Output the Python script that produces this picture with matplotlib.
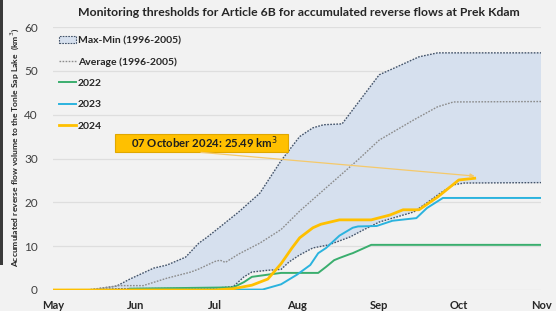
import matplotlib
matplotlib.use("Agg")
import matplotlib.pyplot as plt
from matplotlib.patches import Patch, Rectangle
from matplotlib.lines import Line2D

plt.rcParams['font.family'] = ['Lato', 'DejaVu Sans']

# x values are days since 1 May
month_labels = ["May", "Jun", "Jul", "Aug", "Sep", "Oct", "Nov"]
month_days = [0, 31, 61, 92, 123, 153, 184]

max_days = [13, 16, 24, 29, 38, 43, 50, 55, 58, 63, 70, 78, 86, 93, 98, 102, 109, 115, 123, 130, 138, 145, 184]
max_vals = [0, 0.2, 0.9, 2.5, 5.0, 5.7, 7.5, 10.7, 12, 14.4, 17.8, 22.1, 29.5, 35, 37, 37.7, 37.9, 42.7, 49.1, 51, 53.2, 54.1, 54.1]

min_days = [13, 25, 61, 68, 72, 75, 81, 86, 89, 93, 98, 104, 112, 117, 123, 136, 141, 146, 151, 155, 184]
min_vals = [0, 0.3, 0.4, 0.8, 3.0, 4.1, 4.5, 4.7, 6.4, 8.0, 9.6, 10.3, 12.1, 13.7, 15.5, 17.8, 19.9, 22.1, 24.0, 24.4, 24.5]

avg_days = [13, 25, 34, 43, 52, 55, 61, 63, 65, 70, 78, 86, 93, 102, 115, 123, 136, 145, 151, 184]
avg_vals = [0, 1.0, 1.0, 2.7, 4.1, 4.8, 6.5, 6.8, 6.3, 8.2, 10.7, 13.8, 18.0, 22.8, 29.7, 34.2, 38.8, 41.8, 42.9, 43.0]

y2022_days = [29, 68, 72, 75, 81, 86, 100, 103, 106, 108, 112, 113, 120, 184]
y2022_vals = [0.3, 0.6, 1.8, 3.0, 3.5, 3.9, 3.9, 5.3, 6.8, 7.3, 8.2, 8.4, 10.3, 10.3]

y2023_days = [0, 79, 86, 92, 97, 100, 103, 108, 113, 115, 122, 128, 134, 137, 141, 147, 184]
y2023_vals = [0, 0.1, 1.3, 3.5, 5.7, 8.4, 9.6, 12.4, 14.2, 14.5, 14.6, 15.8, 16.2, 16.4, 18.7, 21.0, 21.0]

y2024_days = [0, 61, 68, 75, 81, 86, 90, 93, 98, 101, 108, 120, 127, 132, 138, 145, 153, 159]
y2024_vals = [0, 0, 0.3, 1.1, 2.5, 6.0, 9.5, 11.9, 14.2, 15.0, 16.0, 16.0, 17.1, 18.3, 18.3, 21.2, 25.1, 25.49]

annot_day = 159
annot_val = 25.49
annot_text = "07 October 2024: 25.49 km$^3$"

title = "Monitoring thresholds for Article 6B for accumulated reverse flows at Prek Kdam"
ylabel = "Accumulated reverse flow volume to the Tonle Sap Lake  (km$^3$)"

bg = "#F2F2F2"
fig = plt.figure(figsize=(5.56, 3.11), dpi=100, facecolor=bg)
ax = fig.add_axes([53/556, 21/311, 488/556, 263/311], facecolor=bg)

# left dark strip
fig.patches.append(Rectangle((0, 46/311), 3/556, 1 - 46/311, transform=fig.transFigure,
                             facecolor="#3A3A3A", edgecolor="none"))

ax.set_xlim(0, 184)
ax.set_ylim(0, 60)
ax.set_yticks([0, 10, 20, 30, 40, 50, 60])
ax.set_xticks(month_days)
ax.set_xticklabels(month_labels, fontweight='bold', fontsize=8, color="#262626")
ax.tick_params(axis='y', labelsize=8.5, colors="#404040", length=0, pad=11)
ax.tick_params(axis='x', length=0, pad=7)
for s in ax.spines.values():
    s.set_visible(False)
ax.grid(axis='y', color="#DEDEDE", linewidth=0.9)
ax.set_axisbelow(True)

fill_color = "#D6E0EE"
ax.fill(max_days + min_days[::-1], max_vals + min_vals[::-1], color=fill_color, zorder=1, linewidth=0)
ax.plot(max_days, max_vals, color="#44546A", linestyle=(0, (1.2, 1.0)), linewidth=1.0, zorder=2)
ax.plot(min_days, min_vals, color="#44546A", linestyle=(0, (1.2, 1.0)), linewidth=1.0, zorder=2)
ax.plot(avg_days, avg_vals, color="#8C8C8C", linestyle=(0, (1.2, 1.0)), linewidth=1.0, zorder=2)

c2022 = "#3AAE6E"
c2023 = "#2BB3DE"
c2024 = "#FFC000"
ax.plot(y2022_days, y2022_vals, color=c2022, linewidth=1.4, zorder=3)
ax.plot(y2023_days, y2023_vals, color=c2023, linewidth=1.4, zorder=3)
ax.plot(y2024_days, y2024_vals, color=c2024, linewidth=2.0, zorder=4)

# annotation box, text and pointer
ax.add_patch(Rectangle((23.4, 31.4), 65.2, 4.2, facecolor="#FFC000", edgecolor="#E0A800",
                       linewidth=0.8, zorder=5))
ax.text(57.3, 33.5, annot_text, ha='center', va='center', fontsize=8.2, fontweight='bold',
        color="#1F1F1F", zorder=6)
ax.annotate("", xy=(annot_day, annot_val + 0.5), xytext=(55.8, 31.4),
            arrowprops=dict(arrowstyle='-|>', color="#F5C96A", linewidth=0.9, mutation_scale=6,
                            shrinkA=0, shrinkB=0),
            zorder=5)

handles = [
    Patch(facecolor=fill_color, edgecolor="#44546A", linestyle=(0, (1.5, 1.0)), linewidth=0.8),
    Line2D([], [], color="#8C8C8C", linestyle=(0, (1.2, 1.0)), linewidth=1.0),
    Line2D([], [], color=c2022, linewidth=1.4),
    Line2D([], [], color=c2023, linewidth=1.4),
    Line2D([], [], color=c2024, linewidth=2.0),
]
labels = ["Max-Min (1996-2005)", "Average (1996-2005)", "2022", "2023", "2024"]
leg = ax.legend(handles, labels, loc='upper left', bbox_to_anchor=(0.0, 0.99), frameon=False,
                prop=dict(weight='bold', size=7.5), handlelength=1.6, handletextpad=0.2,
                labelspacing=1.15, borderaxespad=0.2)
for t in leg.get_texts():
    t.set_color("#262626")

fig.text(299/556, 1 - 13/311, title, ha='center', va='center', fontsize=8.85, fontweight='bold', color="#262626")
fig.text(15/556, 1 - 147/311, ylabel, rotation=90, ha='center', va='center', fontsize=6.1,
         fontweight='bold', color="#262626")

fig.savefig("out.png", dpi=100, facecolor=bg)
